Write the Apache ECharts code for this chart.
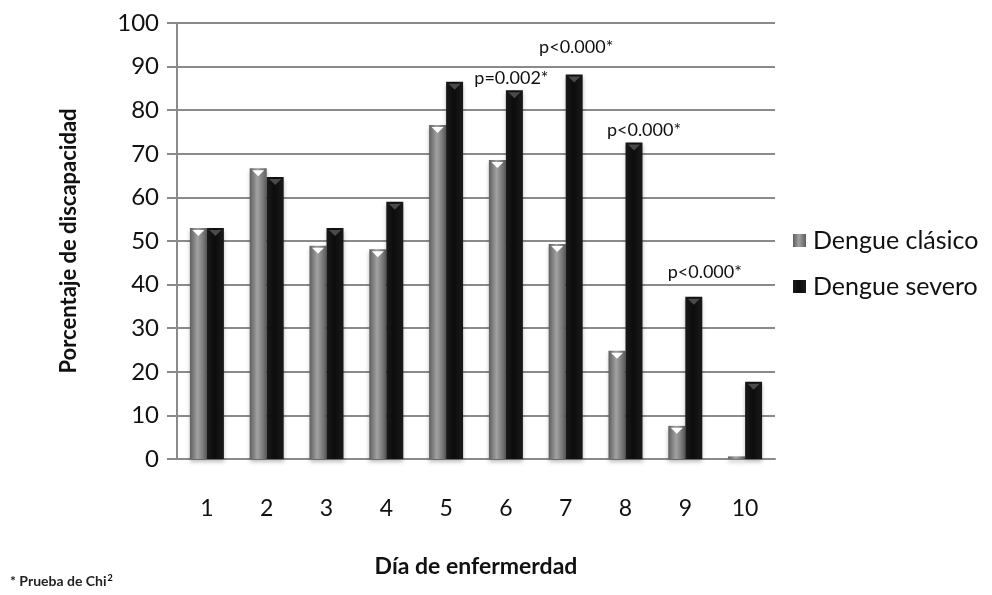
<!DOCTYPE html>
<html>
<head>
<meta charset="utf-8">
<script src="https://cdn.jsdelivr.net/npm/echarts@6/dist/echarts.min.js"></script>
<style>
  html, body { margin: 0; padding: 0; background: #fff; }
  #chart { width: 992px; height: 595px; }
</style>
</head>
<body>
<div id="chart"></div>
<script>
const days = ["1", "2", "3", "4", "5", "6", "7", "8", "9", "10"];
const clasico = [53, 66.7, 48.9, 48.1, 76.6, 68.6, 49.3, 24.8, 7.6, 0.6];
const severo = [53, 64.7, 53, 59, 86.5, 84.6, 88.2, 72.6, 37.2, 17.7];
const yTicks = [0, 10, 20, 30, 40, 50, 60, 70, 80, 90, 100];

// p-value notes sitting over the severe-dengue bars
const noteDays = ["6", "7", "8", "9"];
const noteY = [87.4, 94.5, 75.5, 42.9];
const noteText = ["p=0.002*", "p<0.000*", "p<0.000*", "p<0.000*"];
const noteDx = [-3, 2, 10, 11];

const font = "Lato";

function barGradient(edge, mid) {
  return new echarts.graphic.LinearGradient(0, 0, 1, 0, [
    { offset: 0, color: edge },
    { offset: 0.45, color: mid },
    { offset: 1, color: edge },
  ]);
}

function topMarks(values, color) {
  return {
    silent: true,
    symbol: "triangle",
    symbolRotate: 180,
    symbolSize: [12, 6],
    symbolOffset: [0, 5],
    itemStyle: { color: color },
    label: { show: false },
    data: values
      .map((v, i) => ({ coord: [days[i], v] }))
      .filter((d) => d.coord[1] > 2),
  };
}

const chart = echarts.init(document.getElementById("chart"));

const severoMarks = topMarks(severo, "#4a4a4a");
severoMarks.data = severoMarks.data.concat(
  noteDays.map((d, i) => ({
    coord: [d, noteY[i]],
    symbol: "rect",
    symbolSize: 1,
    symbolOffset: [0, 0],
    itemStyle: { color: "rgba(0,0,0,0)" },
    label: {
      show: true,
      position: "inside",
      formatter: noteText[i],
      offset: [noteDx[i], 0],
      fontFamily: font,
      fontSize: 18,
      color: "#111",
    },
  }))
);

chart.setOption({
  animation: false,
  textStyle: { fontFamily: font },
  grid: { left: 177, right: 217, top: 23, bottom: 136 },
  legend: {
    orient: "vertical",
    left: 788,
    top: 223,
    itemWidth: 13,
    itemHeight: 13,
    itemGap: 21,
    icon: "rect",
    textStyle: { fontFamily: font, fontSize: 25, color: "#111", padding: [0, 0, 0, 2] },
    data: ["Dengue clásico", "Dengue severo"],
  },
  xAxis: {
    type: "category",
    data: days,
    name: "Día de enfermerdad",
    nameLocation: "middle",
    nameGap: 96,
    nameTextStyle: { fontFamily: font, fontSize: 23, fontWeight: "bold", color: "#111" },
    axisLine: { lineStyle: { color: "#8a8a8a", width: 2 } },
    axisTick: { show: false },
    axisLabel: { margin: 38, fontSize: 23, color: "#111", fontFamily: font },
  },
  yAxis: {
    type: "value",
    min: 0,
    max: 100,
    interval: 10,
    name: "Porcentaje de discapacidad",
    nameLocation: "middle",
    nameGap: 97,
    nameTextStyle: { fontFamily: font, fontSize: 22, fontWeight: "bold", color: "#111" },
    axisLine: { show: true, lineStyle: { color: "#8a8a8a", width: 2 } },
    axisTick: { show: true, length: 10, lineStyle: { color: "#8a8a8a", width: 2 } },
    axisLabel: {
      margin: 18,
      fontSize: 24,
      color: "#111",
      fontFamily: font,
      formatter: (v) => (yTicks.includes(v) ? String(v) : ""),
    },
    splitLine: { lineStyle: { color: "#8a8a8a", width: 2 } },
  },
  series: [
    {
      name: "Dengue clásico",
      type: "bar",
      data: clasico,
      barWidth: 17,
      barGap: "0%",
      itemStyle: {
        color: barGradient("#5e5e5e", "#a2a2a2"),
        shadowColor: "rgba(0,0,0,0.25)",
        shadowBlur: 4,
        shadowOffsetY: 3,
      },
      markPoint: topMarks(clasico, "#ffffff"),
    },
    {
      name: "Dengue severo",
      type: "bar",
      data: severo,
      barWidth: 17,
      barGap: "0%",
      itemStyle: {
        color: barGradient("#1a1a1a", "#0c0c0c"),
        shadowColor: "rgba(0,0,0,0.25)",
        shadowBlur: 4,
        shadowOffsetY: 3,
      },
      markPoint: severoMarks,
    },
  ],
  graphic: [
    {
      type: "text",
      left: 10,
      top: 574,
      style: {
        text: "{a|* Prueba de Chi}{s|2}",
        rich: {
          a: { fontFamily: font, fontSize: 14, fontWeight: "bold", fill: "#222", color: "#222" },
          s: { fontFamily: font, fontSize: 9, fontWeight: "bold", color: "#222", verticalAlign: "top", padding: [0, 0, 6, 1] },
        },
      },
    },
  ],
});
</script>
</body>
</html>
